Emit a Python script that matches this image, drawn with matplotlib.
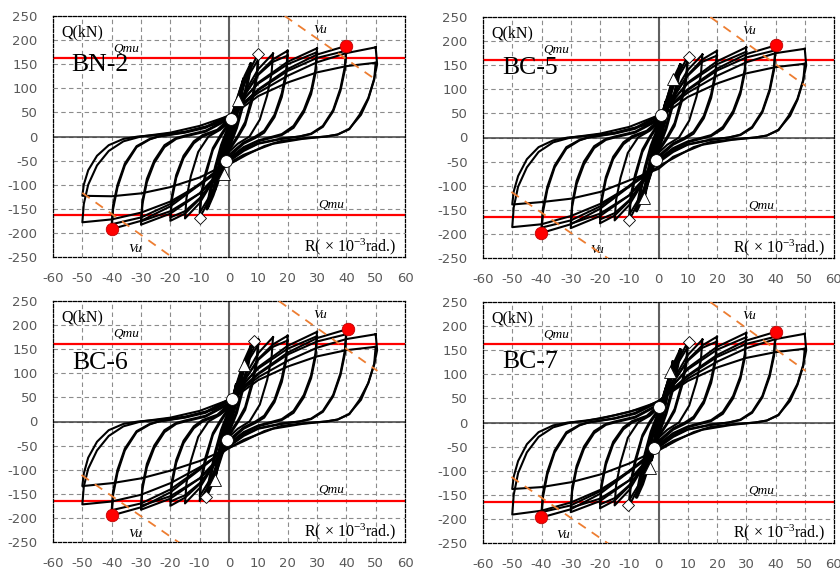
import matplotlib
matplotlib.use("Agg")
import matplotlib.pyplot as plt

plt.rcParams['mathtext.fontset'] = 'custom'
plt.rcParams['mathtext.rm'] = 'Liberation Serif'
plt.rcParams['mathtext.it'] = 'Liberation Serif:italic'
plt.rcParams['axes.unicode_minus'] = False

SPECIMENS = ["BN-2", "BC-5", "BC-6", "BC-7"]

# ---- drift history of each cycle, R (x10^-3 rad), common loading protocol ----
R_2_5 = [2.5, 1.5, 0, -1.5, -2.5, -1.5, 0, 1.5, 2.5]
R_5 = [5, 4, 2, 0, -2, -4, -5, -4, -2, 0, 2, 4, 5]
R_7_5 = [7.5, 6.5, 4.5, 2.5, 0, -3, -5.5, -7.5, -6.5, -4.5, -2.5, 0, 3, 5.5, 7.5]
R_10 = [10, 9.5, 8, 5.5, 3, 0, -3, -6, -10, -9.5, -8, -5.5, -3, 0, 3, 6, 10]
R_15 = [15, 14.5, 13, 10.5, 7, 3, 0, -5, -10, -15, -14.5, -13, -10.5, -7, -3, 0,
        5, 10, 15]
R_20 = [20, 19.5, 18, 15.5, 12, 9, 5, 0, -5, -10, -15, -20, -19.5, -18, -15.5, -12,
        -9, -4, 0, 5, 10, 15, 20]
R_30 = [30, 29.5, 28, 25.5, 22, 18, 15, 10, 5, 0, -5, -10, -20, -30, -29.5, -28,
        -25.5, -22, -18, -15, -8, 0, 5, 10, 20, 30]
R_40 = [40, 39.5, 38, 35.5, 32, 28, 24, 18, 10, 5, 0, -10, -20, -30, -40, -39.5,
        -38, -35.5, -31.5, -27, -24, -15, -8, 0, 5, 10, 20, 30, 40]
R_50A = [50, 50.5, 49.5, 47.5, 44.5, 41, 37, 33, 25, 18, 12, 6, 0, -10, -20, -30,
         -40, -50, -49.5, -48, -45, -41, -36, -30, -20, -10, 0, 10, 20, 30, 40, 50]
R_50B = [50, 49.5, 47.5, 45, 41, 37, 33, 25, 15, 5, 0, -10, -20, -30, -40, -50,
         -49.5, -48, -45, -41, -36, -31, -25, -15, -5, 0, 10, 20, 30, 40, 50]
# first and second cycle at each amplitude
CYCLE_R = [R_2_5, R_5, R_5, R_7_5, R_10, R_10, R_15, R_20, R_20, R_30, R_30,
           R_40, R_40, R_50A, R_50B]

# ---- shear force Q (kN) along each cycle ----
BN2_Q = [
    [70, 38, -12, -48, -72, -40, 12, 45, 70],
    [118, 88, 32, -12, -52, -95, -112, -82, -28, 14, 55, 98, 118],
    [112, 82, 28, -15, -55, -92, -106, -76, -24, 16, 58, 94, 112],
    [150, 118, 62, 18, -22, -78, -122, -150, -118, -62, -18, 22, 80, 125, 150],
    [172, 132, 85, 30, 2, -26, -75, -122, -169, -128, -82, -28, -2, 26, 75, 125, 172],
    [160, 122, 76, 24, -2, -30, -76, -118, -158, -118, -75, -24, 2, 30, 76, 120, 160],
    [172, 130, 85, 35, 0, -15, -32, -88, -138, -170, -128, -82, -32, 0, 14, 30, 88, 140, 172],
    [178, 135, 90, 45, 12, 0, -12, -38, -88, -130, -160, -175, -132, -86, -45, -14, 0, 12, 32,
     82, 130, 160, 178],
    [168, 126, 82, 40, 8, -3, -15, -42, -90, -128, -155, -168, -124, -80, -40, -10, 3, 14, 36,
     84, 128, 155, 168],
    [183, 140, 95, 55, 22, 5, 0, -8, -22, -45, -85, -118, -160, -183, -140, -95, -55, -22, -5,
     0, 10, 36, 77, 112, 155, 183],
    [175, 132, 88, 50, 18, 3, -2, -10, -25, -48, -88, -118, -155, -176, -133, -88, -50, -18,
     -3, 2, 12, 38, 78, 110, 150, 175],
    [188, 145, 100, 55, 22, 6, 0, -4, -14, -28, -50, -100, -145, -175, -192, -150, -105, -60,
     -22, -6, 0, 8, 18, 42, 70, 98, 140, 170, 188],
    [178, 138, 95, 52, 20, 5, 0, -5, -15, -30, -52, -98, -140, -168, -182, -142, -100, -56,
     -20, -5, 0, 9, 20, 44, 70, 96, 136, 163, 178],
    [185, 150, 120, 80, 45, 15, 4, 0, -4, -9, -20, -38, -58, -100, -135, -158, -172, -178,
     -140, -100, -60, -30, -10, 0, 8, 22, 43, 91, 126, 154, 173, 185],
    [153, 118, 78, 45, 16, 4, 0, -5, -15, -38, -55, -85, -105, -118, -124, -123, -100, -70,
     -40, -18, -5, 0, 3, 10, 25, 40, 84, 112, 133, 146, 153],
]
BC5_Q = [
    [72, 40, -12, -45, -70, -38, 14, 48, 72],
    [121, 90, 34, -10, -55, -100, -125, -90, -30, 12, 56, 100, 121],
    [115, 84, 30, -14, -58, -96, -118, -84, -26, 16, 60, 96, 115],
    [150, 118, 62, 18, -22, -80, -125, -152, -120, -62, -18, 22, 80, 125, 150],
    [168, 130, 84, 30, 2, -26, -76, -124, -171, -130, -84, -30, -2, 26, 74, 122, 168],
    [158, 120, 76, 24, -2, -30, -78, -120, -160, -120, -77, -25, 2, 30, 76, 118, 158],
    [172, 130, 85, 35, 0, -15, -32, -90, -140, -172, -130, -84, -32, 0, 14, 30, 88, 140, 172],
    [180, 137, 90, 45, 12, 0, -12, -38, -88, -132, -162, -178, -135, -88, -45, -14, 0, 12, 32,
     82, 130, 162, 180],
    [170, 128, 82, 40, 8, -3, -15, -42, -90, -130, -157, -170, -127, -82, -40, -10, 3, 14, 36,
     84, 128, 157, 170],
    [187, 142, 96, 55, 22, 5, 0, -8, -22, -45, -85, -120, -163, -188, -143, -97, -56, -22, -5,
     0, 10, 36, 77, 114, 158, 187],
    [178, 134, 90, 50, 18, 3, -2, -10, -25, -48, -88, -120, -158, -179, -136, -90, -50, -18,
     -3, 2, 12, 38, 78, 112, 152, 178],
    [191, 147, 100, 55, 22, 6, 0, -4, -14, -28, -50, -102, -148, -180, -198, -155, -108, -62,
     -23, -6, 0, 8, 18, 44, 72, 100, 143, 173, 191],
    [181, 140, 96, 52, 20, 5, 0, -5, -15, -30, -52, -100, -143, -172, -187, -146, -102, -58,
     -20, -5, 0, 9, 20, 46, 72, 98, 139, 166, 181],
    [184, 150, 120, 80, 45, 15, 4, 0, -4, -9, -20, -40, -60, -102, -138, -163, -180, -186,
     -145, -102, -62, -30, -10, 0, 8, 22, 46, 93, 128, 156, 175, 184],
    [153, 118, 78, 45, 16, 4, 0, -5, -15, -40, -65, -89, -113, -127, -134, -139, -112, -80,
     -45, -20, -6, 0, 3, 10, 25, 40, 84, 112, 133, 146, 153],
]
BC6_Q = [
    [75, 42, -10, -38, -60, -32, 15, 50, 75],
    [117, 88, 34, -8, -48, -95, -122, -88, -28, 14, 56, 98, 117],
    [112, 82, 30, -12, -52, -92, -115, -82, -24, 18, 60, 95, 112],
    [155, 120, 64, 18, -20, -78, -125, -152, -118, -62, -18, 22, 82, 128, 155],
    [170, 132, 85, 30, 2, -26, -75, -122, -165, -126, -82, -28, -2, 26, 76, 125, 170],
    [160, 122, 77, 24, -2, -30, -76, -116, -155, -116, -74, -24, 2, 30, 77, 120, 160],
    [175, 132, 86, 35, 0, -15, -32, -88, -138, -170, -128, -82, -32, 0, 14, 30, 90, 142, 175],
    [178, 135, 90, 45, 12, 0, -12, -38, -88, -130, -158, -175, -132, -86, -45, -14, 0, 12, 32,
     82, 130, 160, 178],
    [168, 126, 82, 40, 8, -3, -15, -42, -90, -128, -153, -166, -124, -80, -40, -10, 3, 14, 36,
     84, 128, 155, 168],
    [186, 142, 96, 55, 22, 5, 0, -8, -22, -45, -85, -118, -160, -183, -140, -95, -55, -22, -5,
     0, 10, 36, 77, 113, 157, 186],
    [177, 134, 90, 50, 18, 3, -2, -10, -25, -48, -88, -118, -155, -175, -133, -88, -50, -18,
     -3, 2, 12, 38, 78, 110, 151, 177],
    [191, 147, 100, 55, 22, 6, 0, -4, -14, -28, -50, -100, -147, -178, -195, -152, -106, -60,
     -22, -6, 0, 8, 18, 44, 72, 100, 143, 173, 191],
    [181, 140, 96, 52, 20, 5, 0, -5, -15, -30, -52, -98, -141, -170, -184, -144, -100, -56,
     -20, -5, 0, 9, 20, 46, 72, 98, 139, 166, 181],
    [181, 148, 118, 80, 45, 15, 4, 0, -4, -9, -20, -38, -55, -95, -128, -152, -166, -172,
     -135, -98, -60, -30, -10, 0, 8, 22, 45, 92, 126, 153, 171, 181],
    [155, 120, 80, 45, 16, 4, 0, -5, -15, -38, -55, -82, -102, -118, -128, -134, -108, -75,
     -42, -18, -5, 0, 3, 10, 25, 42, 86, 114, 135, 148, 155],
]
BC7_Q = [
    [68, 36, -15, -52, -78, -44, 10, 42, 68],
    [125, 92, 34, -12, -55, -92, -110, -80, -26, 12, 55, 100, 125],
    [118, 86, 30, -15, -58, -90, -105, -75, -22, 16, 58, 96, 118],
    [150, 118, 62, 18, -24, -82, -128, -155, -122, -65, -20, 20, 78, 124, 150],
    [167, 128, 82, 28, 0, -28, -78, -126, -172, -132, -85, -30, -2, 24, 72, 120, 167],
    [157, 119, 75, 23, -3, -31, -79, -122, -161, -122, -78, -26, 2, 28, 74, 116, 157],
    [172, 130, 85, 35, 0, -15, -32, -90, -140, -172, -130, -84, -32, 0, 14, 30, 88, 140, 172],
    [178, 135, 90, 45, 12, 0, -12, -38, -88, -132, -162, -178, -135, -88, -45, -14, 0, 12, 32,
     82, 130, 160, 178],
    [168, 126, 82, 40, 8, -3, -15, -42, -90, -130, -157, -170, -127, -82, -40, -10, 3, 14, 36,
     84, 128, 155, 168],
    [186, 142, 96, 55, 22, 5, 0, -8, -22, -45, -85, -120, -163, -186, -142, -96, -55, -22, -5,
     0, 10, 36, 77, 113, 157, 186],
    [177, 134, 90, 50, 18, 3, -2, -10, -25, -48, -88, -120, -158, -177, -135, -90, -50, -18,
     -3, 2, 12, 38, 78, 110, 151, 177],
    [188, 145, 100, 55, 22, 6, 0, -4, -14, -28, -50, -102, -148, -180, -197, -155, -108, -62,
     -23, -6, 0, 8, 18, 42, 70, 98, 140, 170, 188],
    [178, 138, 95, 52, 20, 5, 0, -5, -15, -30, -52, -100, -143, -172, -186, -146, -102, -58,
     -20, -5, 0, 9, 20, 44, 70, 96, 136, 163, 178],
    [184, 150, 120, 80, 45, 15, 4, 0, -4, -9, -20, -38, -58, -102, -140, -166, -183, -191,
     -150, -105, -62, -30, -10, 0, 8, 22, 43, 91, 126, 154, 173, 184],
    [153, 118, 78, 45, 16, 4, 0, -5, -15, -38, -55, -85, -108, -124, -134, -138, -112, -80,
     -45, -20, -6, 0, 3, 15, 30, 45, 86, 114, 134, 146, 153],
]
CYCLE_Q = [BN2_Q, BC5_Q, BC6_Q, BC7_Q]

# ---- characteristic points (R, Q) ----
CIRCLE_R = [[0.8, -1.0], [0.9, -0.9], [1.1, -0.7], [0.3, -1.4]]
CIRCLE_Q = [[37, -51], [46, -47], [46, -39], [33, -53]]
TRIANGLE_R = [[3.0, -1.6], [4.8, -4.9], [5.0, -4.7], [3.8, -3.0]]
TRIANGLE_Q = [[75, -77], [121, -125], [117, -122], [105, -94]]
DIAMOND_R = [[10.0, -10.0], [10.3, -10.0], [8.4, -7.8], [10.3, -10.3]]
DIAMOND_Q = [[172, -169], [168, -171], [167, -157], [167, -172]]
MAX_R = [[40.0, -40.0], [40.3, -40.2], [40.4, -40.0], [40.3, -40.2]]
MAX_Q = [[188, -192], [191, -198], [191, -195], [188, -197]]

# flexural strength Qmu (kN)
QMU_POS = [162, 161, 161, 162]
QMU_NEG = [-162, -164, -164, -164]

# shear strength Vu degradation lines: (R, Q) end points
VU_TOP_R = [[19.0, 50.0], [17.7, 50.3], [17.0, 50.6], [17.7, 50.3]]
VU_TOP_Q = [[250, 118], [250, 107], [250, 105], [250, 107]]
VU_BOT_R = [[-50.0, -19.5], [-50.3, -17.0], [-50.3, -16.6], [-50.3, -17.0]]
VU_BOT_Q = [[-117, -250], [-113, -252], [-111, -253], [-113, -252]]

# label placement
NAME_Q = [148, 144, 122, 126]
VU_LABEL_BOT_R = [-32, -21, -32, -32.6]

XTICKS = list(range(-60, 61, 10))
YTICKS = list(range(-250, 251, 50))

fig = plt.figure(figsize=(8.4, 5.75), dpi=100)
W, H = 840.0, 575.0
boxes = [(53, 16, 405, 257), (483, 17, 834, 258), (53, 301, 405, 542), (483, 302, 834, 543)]

SERIF = 'Liberation Serif'
GRAY = '#595959'

for i, name in enumerate(SPECIMENS):
    x0, y0, x1, y1 = boxes[i]
    ax = fig.add_axes([x0 / W, 1 - y1 / H, (x1 - x0) / W, (y1 - y0) / H])
    ax.set_xlim(-60, 60)
    ax.set_ylim(-250, 250)
    ax.set_xticks(XTICKS)
    ax.set_yticks(YTICKS)
    ax.tick_params(length=0, labelsize=9.5, labelcolor=GRAY)
    ax.tick_params(axis='x', pad=11)
    ax.tick_params(axis='y', pad=11)
    ax.grid(True, color='#8c8c8c', linestyle=(0, (4, 3)), linewidth=0.8)
    ax.set_axisbelow(True)
    for sp in ax.spines.values():
        sp.set_linestyle((0, (2.5, 1.5)))
        sp.set_linewidth(0.9)
        sp.set_color('black')

    ax.axhline(0, color='#404040', lw=1.1, zorder=1.5)
    ax.axvline(0, color='#606060', lw=1.5, zorder=1.5)

    # hysteresis loops; the small cycles overlap into a dense band
    for k, (r, q) in enumerate(zip(CYCLE_R, CYCLE_Q[i])):
        lw = 2.4 if k < 4 else 1.5
        ax.plot(r, q, color='black', lw=lw, solid_joinstyle='round', zorder=3)

    # flexural strength
    ax.axhline(QMU_POS[i], color='#ff0000', lw=1.6, zorder=2.5)
    ax.axhline(QMU_NEG[i], color='#ff0000', lw=1.6, zorder=2.5)

    # shear strength lines
    ax.plot(VU_TOP_R[i], VU_TOP_Q[i], color='#ed7d31', lw=1.3, dashes=(5, 4), zorder=4)
    ax.plot(VU_BOT_R[i], VU_BOT_Q[i], color='#ed7d31', lw=1.3, dashes=(5, 4), zorder=4)

    # characteristic points
    ax.plot(CIRCLE_R[i], CIRCLE_Q[i], 'o', ms=8.5, mfc='white', mec='black', mew=0.6, zorder=5)
    ax.plot(TRIANGLE_R[i], TRIANGLE_Q[i], '^', ms=9, mfc='white', mec='black', mew=0.6, zorder=5)
    ax.plot(DIAMOND_R[i], DIAMOND_Q[i], 'D', ms=6, mfc='white', mec='black', mew=0.6, zorder=5)
    ax.plot(MAX_R[i], MAX_Q[i], 'o', ms=9, mfc='#ff0000', mec='#c00000', mew=0.6, zorder=6)

    # annotations
    ax.text(-57, 217, 'Q(kN)', fontsize=11.5, family=SERIF, va='center', ha='left')
    ax.text(-44, NAME_Q[i], name, fontsize=18.5, family=SERIF, va='center', ha='center')
    ax.text(-35, 181, 'Qmu', fontsize=9.5, family=SERIF, style='italic', va='center', ha='center')
    ax.text(35, -143, 'Qmu', fontsize=9.5, family=SERIF, style='italic', va='center', ha='center')
    ax.text(31, 221, 'Vu', fontsize=9.5, family=SERIF, style='italic', va='center', ha='center')
    ax.text(VU_LABEL_BOT_R[i], -233, 'Vu', fontsize=9.5, family=SERIF, style='italic',
            va='center', ha='center')
    ax.text(57, -228, r'R( $\times$ 10$^{-3}$rad.)', fontsize=11.5, family=SERIF,
            va='center', ha='right')

fig.savefig('out.png', dpi=100)
